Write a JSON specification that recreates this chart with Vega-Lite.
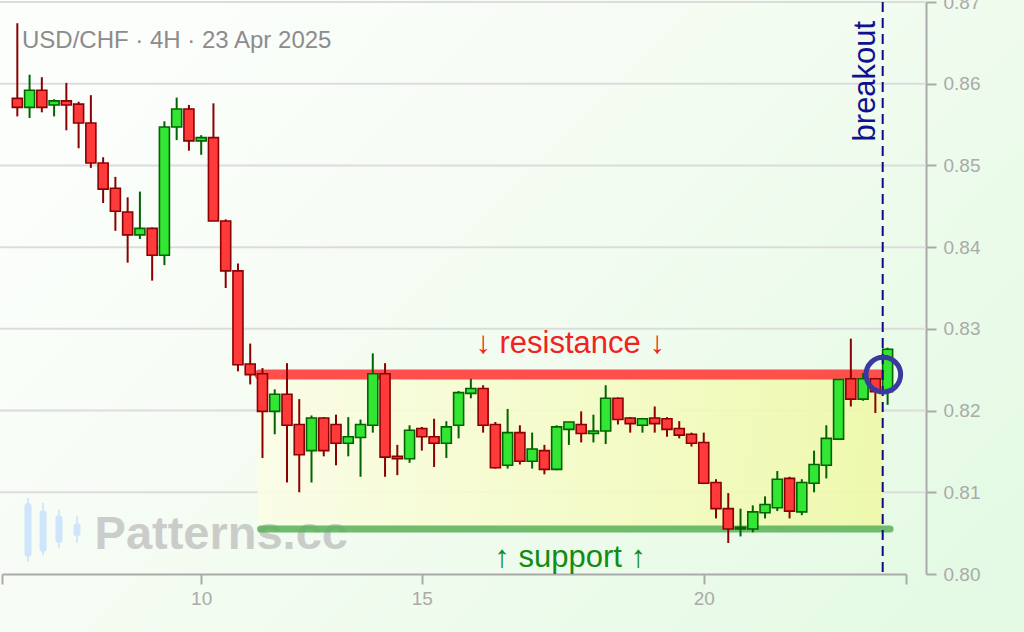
{
  "$schema": "https://vega.github.io/schema/vega-lite/v6.json",
  "width": 1024,
  "height": 632,
  "autosize": "none",
  "padding": 0,
  "background": "#f4fcf4",
  "config": {
    "view": {
      "stroke": null,
      "fill": {
        "gradient": "linear",
        "x1": 0, "y1": 0.2, "x2": 1, "y2": 0.8,
        "stops": [
          {"offset": 0, "color": "#fcfefc"},
          {"offset": 0.5, "color": "#f3fcf1"},
          {"offset": 1, "color": "#e4fae4"}
        ]
      }
    },
    "font": "Liberation Sans"
  },
  "datasets": {
    "candles": [
      {"i": 0, "open": 0.8582, "high": 0.8674, "low": 0.8560, "close": 0.8571},
      {"i": 1, "open": 0.8571, "high": 0.8611, "low": 0.8558, "close": 0.8592},
      {"i": 2, "open": 0.8592, "high": 0.8608, "low": 0.8565, "close": 0.8571},
      {"i": 3, "open": 0.8574, "high": 0.8581, "low": 0.8560, "close": 0.8579},
      {"i": 4, "open": 0.8579, "high": 0.8601, "low": 0.8543, "close": 0.8574},
      {"i": 5, "open": 0.8575, "high": 0.8578, "low": 0.8521, "close": 0.8552},
      {"i": 6, "open": 0.8552, "high": 0.8586, "low": 0.8497, "close": 0.8503},
      {"i": 7, "open": 0.8503, "high": 0.8510, "low": 0.8454, "close": 0.8471},
      {"i": 8, "open": 0.8472, "high": 0.8486, "low": 0.8420, "close": 0.8444},
      {"i": 9, "open": 0.8443, "high": 0.8461, "low": 0.8381, "close": 0.8415},
      {"i": 10, "open": 0.8415, "high": 0.8468, "low": 0.8410, "close": 0.8423},
      {"i": 11, "open": 0.8423, "high": 0.8424, "low": 0.8359, "close": 0.8390},
      {"i": 12, "open": 0.8390, "high": 0.8554, "low": 0.8378, "close": 0.8547},
      {"i": 13, "open": 0.8547, "high": 0.8583, "low": 0.8531, "close": 0.8569},
      {"i": 14, "open": 0.8569, "high": 0.8574, "low": 0.8518, "close": 0.8530},
      {"i": 15, "open": 0.8530, "high": 0.8537, "low": 0.8513, "close": 0.8534},
      {"i": 16, "open": 0.8534, "high": 0.8576, "low": 0.8432, "close": 0.8432},
      {"i": 17, "open": 0.8432, "high": 0.8434, "low": 0.8350, "close": 0.8371},
      {"i": 18, "open": 0.8371, "high": 0.8380, "low": 0.8248, "close": 0.8256},
      {"i": 19, "open": 0.8257, "high": 0.8282, "low": 0.8232, "close": 0.8244},
      {"i": 20, "open": 0.8245, "high": 0.8252, "low": 0.8142, "close": 0.8199},
      {"i": 21, "open": 0.8199, "high": 0.8226, "low": 0.8171, "close": 0.8220},
      {"i": 22, "open": 0.8220, "high": 0.8258, "low": 0.8112, "close": 0.8182},
      {"i": 23, "open": 0.8183, "high": 0.8214, "low": 0.8100, "close": 0.8146},
      {"i": 24, "open": 0.8151, "high": 0.8194, "low": 0.8112, "close": 0.8191},
      {"i": 25, "open": 0.8191, "high": 0.8192, "low": 0.8144, "close": 0.8151},
      {"i": 26, "open": 0.8183, "high": 0.8195, "low": 0.8133, "close": 0.8160},
      {"i": 27, "open": 0.8160, "high": 0.8192, "low": 0.8144, "close": 0.8168},
      {"i": 28, "open": 0.8167, "high": 0.8189, "low": 0.8119, "close": 0.8183},
      {"i": 29, "open": 0.8182, "high": 0.8270, "low": 0.8173, "close": 0.8245},
      {"i": 30, "open": 0.8245, "high": 0.8258, "low": 0.8119, "close": 0.8143},
      {"i": 31, "open": 0.8144, "high": 0.8158, "low": 0.8121, "close": 0.8141},
      {"i": 32, "open": 0.8141, "high": 0.8182, "low": 0.8136, "close": 0.8176},
      {"i": 33, "open": 0.8178, "high": 0.8180, "low": 0.8151, "close": 0.8168},
      {"i": 34, "open": 0.8168, "high": 0.8190, "low": 0.8131, "close": 0.8160},
      {"i": 35, "open": 0.8160, "high": 0.8187, "low": 0.8142, "close": 0.8180},
      {"i": 36, "open": 0.8182, "high": 0.8224, "low": 0.8166, "close": 0.8222},
      {"i": 37, "open": 0.8221, "high": 0.8239, "low": 0.8215, "close": 0.8227},
      {"i": 38, "open": 0.8227, "high": 0.8231, "low": 0.8173, "close": 0.8182},
      {"i": 39, "open": 0.8183, "high": 0.8186, "low": 0.8129, "close": 0.8130},
      {"i": 40, "open": 0.8133, "high": 0.8202, "low": 0.8129, "close": 0.8173},
      {"i": 41, "open": 0.8173, "high": 0.8182, "low": 0.8134, "close": 0.8138},
      {"i": 42, "open": 0.8138, "high": 0.8173, "low": 0.8129, "close": 0.8153},
      {"i": 43, "open": 0.8151, "high": 0.8158, "low": 0.8122, "close": 0.8128},
      {"i": 44, "open": 0.8128, "high": 0.8182, "low": 0.8127, "close": 0.8180},
      {"i": 45, "open": 0.8177, "high": 0.8186, "low": 0.8158, "close": 0.8186},
      {"i": 46, "open": 0.8183, "high": 0.8199, "low": 0.8161, "close": 0.8172},
      {"i": 47, "open": 0.8172, "high": 0.8195, "low": 0.8161, "close": 0.8175},
      {"i": 48, "open": 0.8175, "high": 0.8231, "low": 0.8159, "close": 0.8215},
      {"i": 49, "open": 0.8215, "high": 0.8216, "low": 0.8183, "close": 0.8189},
      {"i": 50, "open": 0.8191, "high": 0.8192, "low": 0.8173, "close": 0.8184},
      {"i": 51, "open": 0.8182, "high": 0.8191, "low": 0.8173, "close": 0.8190},
      {"i": 52, "open": 0.8191, "high": 0.8205, "low": 0.8173, "close": 0.8184},
      {"i": 53, "open": 0.8190, "high": 0.8192, "low": 0.8168, "close": 0.8177},
      {"i": 54, "open": 0.8178, "high": 0.8187, "low": 0.8166, "close": 0.8170},
      {"i": 55, "open": 0.8171, "high": 0.8173, "low": 0.8156, "close": 0.8160},
      {"i": 56, "open": 0.8161, "high": 0.8173, "low": 0.8110, "close": 0.8111},
      {"i": 57, "open": 0.8112, "high": 0.8116, "low": 0.8068, "close": 0.8080},
      {"i": 58, "open": 0.8080, "high": 0.8099, "low": 0.8038, "close": 0.8055},
      {"i": 59, "open": 0.8055, "high": 0.8080, "low": 0.8046, "close": 0.8057},
      {"i": 60, "open": 0.8055, "high": 0.8084, "low": 0.8051, "close": 0.8076},
      {"i": 61, "open": 0.8075, "high": 0.8095, "low": 0.8068, "close": 0.8085},
      {"i": 62, "open": 0.8081, "high": 0.8126, "low": 0.8077, "close": 0.8116},
      {"i": 63, "open": 0.8117, "high": 0.8119, "low": 0.8068, "close": 0.8077},
      {"i": 64, "open": 0.8076, "high": 0.8116, "low": 0.8072, "close": 0.8112},
      {"i": 65, "open": 0.8111, "high": 0.8151, "low": 0.8100, "close": 0.8134},
      {"i": 66, "open": 0.8133, "high": 0.8182, "low": 0.8117, "close": 0.8166},
      {"i": 67, "open": 0.8165, "high": 0.8238, "low": 0.8165, "close": 0.8238},
      {"i": 68, "open": 0.8239, "high": 0.8288, "low": 0.8205, "close": 0.8214},
      {"i": 69, "open": 0.8214, "high": 0.8246, "low": 0.8212, "close": 0.8239},
      {"i": 70, "open": 0.8239, "high": 0.8240, "low": 0.8197, "close": 0.8223},
      {"i": 71, "open": 0.8223, "high": 0.8277, "low": 0.8207, "close": 0.8275}
    ],
    "grid": [
      {"price": 0.81}, {"price": 0.82}, {"price": 0.83}, {"price": 0.84},
      {"price": 0.85}, {"price": 0.86}, {"price": 0.87}
    ],
    "icon": [
      {"k": 0.87, "top": 0.8087, "bottom": 0.8021, "hi": 0.8093, "lo": 0.8015},
      {"k": 2.1, "top": 0.8078, "bottom": 0.8027, "hi": 0.8087, "lo": 0.8023},
      {"k": 3.4, "top": 0.8072, "bottom": 0.8038, "hi": 0.8079, "lo": 0.8032},
      {"k": 4.87, "top": 0.8062, "bottom": 0.8046, "hi": 0.8071, "lo": 0.8038}
    ]
  },
  "encoding": {
    "x": {
      "type": "quantitative",
      "scale": {"domain": [-1.25, 72.5], "range": [2, 906], "nice": false, "zero": false, "padding": 0},
      "axis": {
        "orient": "bottom", "offset": -58, "title": null, "grid": false,
        "values": [-1.25, 15, 33, 56, 72.5],
        "labelExpr": "datum.value == 15 ? '10' : datum.value == 33 ? '15' : datum.value == 56 ? '20' : ''",
        "domainColor": "#aaaaaa", "domainWidth": 2,
        "tickColor": "#aaaaaa", "tickWidth": 2, "tickSize": 10,
        "labelColor": "#aaaaaa", "labelFontSize": 19, "labelPadding": 5,
        "labelFont": "Liberation Sans", "labelFlush": false, "labelOverlap": false
      }
    },
    "y": {
      "type": "quantitative",
      "scale": {"domain": [0.80, 0.87], "range": [574, 2], "nice": false, "zero": false, "padding": 0},
      "axis": {
        "orient": "right", "offset": -98, "title": null, "grid": false,
        "values": [0.80, 0.81, 0.82, 0.83, 0.84, 0.85, 0.86, 0.87],
        "format": ".2f",
        "domainColor": "#aaaaaa", "domainWidth": 2,
        "tickColor": "#aaaaaa", "tickWidth": 2, "tickSize": 10,
        "labelColor": "#aaaaaa", "labelFontSize": 19, "labelPadding": 7,
        "labelFont": "Liberation Sans", "labelFlush": false, "labelOverlap": false
      }
    }
  },
  "layer": [
    {
      "data": {"name": "grid"},
      "mark": {"type": "rule", "color": "#dcdcdc", "strokeWidth": 2},
      "encoding": {
        "x": {"datum": -1.45},
        "x2": {"datum": 74.13},
        "y": {"field": "price", "type": "quantitative"}
      }
    },
    {
      "data": {"values": [{}]},
      "mark": {
        "type": "rect",
        "fill": {
          "gradient": "linear",
          "x1": 0, "y1": 0, "x2": 1, "y2": 0,
          "stops": [
            {"offset": 0, "color": "#fbfde6"},
            {"offset": 1, "color": "#eff9a8"}
          ]
        },
        "opacity": 0.9
      },
      "encoding": {
        "x": {"datum": 19.6},
        "x2": {"datum": 70.6},
        "y": {"datum": 0.8244},
        "y2": {"datum": 0.8055}
      }
    },
    {
      "data": {"name": "icon"},
      "mark": {"type": "rule", "color": "#d3e8fb", "strokeWidth": 2},
      "encoding": {
        "x": {"field": "k", "type": "quantitative"},
        "y": {"field": "lo", "type": "quantitative"},
        "y2": {"field": "hi"}
      }
    },
    {
      "data": {"name": "icon"},
      "mark": {"type": "bar", "color": "#cfe5fb", "width": 7, "cornerRadius": 3},
      "encoding": {
        "x": {"field": "k", "type": "quantitative"},
        "y": {"field": "bottom", "type": "quantitative"},
        "y2": {"field": "top"}
      }
    },
    {
      "data": {"values": [{"label": "Patterns.cc"}]},
      "mark": {
        "type": "text", "align": "left", "baseline": "alphabetic",
        "fontSize": 47, "fontWeight": "bold", "color": "#c4c4c4", "opacity": 0.85
      },
      "encoding": {
        "x": {"datum": 6.3},
        "y": {"datum": 0.8030},
        "text": {"field": "label"}
      }
    },
    {
      "data": {"values": [{}]},
      "mark": {"type": "rule", "color": "#ff3c3c", "strokeWidth": 10, "strokeCap": "round", "opacity": 0.9},
      "encoding": {
        "x": {"datum": 19.75},
        "x2": {"datum": 70.55},
        "y": {"datum": 0.8244}
      }
    },
    {
      "data": {"values": [{}]},
      "mark": {"type": "rule", "color": "#58b058", "strokeWidth": 7, "strokeCap": "round", "opacity": 0.85},
      "encoding": {
        "x": {"datum": 19.85},
        "x2": {"datum": 71.2},
        "y": {"datum": 0.8055}
      }
    },
    {
      "data": {"name": "candles"},
      "mark": {"type": "rule", "strokeWidth": 2},
      "encoding": {
        "x": {"field": "i", "type": "quantitative"},
        "y": {"field": "low", "type": "quantitative"},
        "y2": {"field": "high"},
        "color": {
          "condition": {"test": "datum.close >= datum.open", "value": "#006400"},
          "value": "#8b0000"
        }
      }
    },
    {
      "data": {"name": "candles"},
      "mark": {"type": "bar", "width": 10, "strokeWidth": 1.6},
      "encoding": {
        "x": {"field": "i", "type": "quantitative"},
        "y": {"field": "open", "type": "quantitative"},
        "y2": {"field": "close"},
        "fill": {
          "condition": {"test": "datum.close >= datum.open", "value": "#33e633"},
          "value": "#ff3a3a"
        },
        "stroke": {
          "condition": {"test": "datum.close >= datum.open", "value": "#006400"},
          "value": "#8b0000"
        }
      }
    },
    {
      "data": {"values": [{}]},
      "mark": {"type": "rule", "color": "#0c0c80", "strokeWidth": 2, "strokeDash": [10, 6]},
      "encoding": {
        "x": {"datum": 70.6},
        "y": {"datum": 0.87},
        "y2": {"datum": 0.80}
      }
    },
    {
      "data": {"values": [{}]},
      "mark": {"type": "point", "shape": "circle", "size": 1200, "filled": false, "stroke": "#3a3a9e", "strokeWidth": 5, "opacity": 1},
      "encoding": {
        "x": {"datum": 70.65},
        "y": {"datum": 0.8244}
      }
    },
    {
      "data": {"values": [{"label": "USD/CHF · 4H · 23 Apr 2025"}]},
      "mark": {"type": "text", "align": "left", "baseline": "middle", "fontSize": 24, "color": "#8c8c8c"},
      "encoding": {
        "x": {"datum": 0.38},
        "y": {"datum": 0.8652},
        "text": {"field": "label"}
      }
    },
    {
      "data": {"values": [{"label": "↓ resistance ↓"}]},
      "mark": {"type": "text", "align": "center", "baseline": "middle", "fontSize": 31, "color": "#f02222"},
      "encoding": {
        "x": {"datum": 45.1},
        "y": {"datum": 0.8282},
        "text": {"field": "label"}
      }
    },
    {
      "data": {"values": [{"label": "↑ support ↑"}]},
      "mark": {"type": "text", "align": "center", "baseline": "middle", "fontSize": 31, "color": "#128c12"},
      "encoding": {
        "x": {"datum": 45.1},
        "y": {"datum": 0.8020},
        "text": {"field": "label"}
      }
    },
    {
      "data": {"values": [{"label": "breakout"}]},
      "mark": {"type": "text", "align": "right", "baseline": "middle", "angle": 270, "fontSize": 31, "color": "#101090"},
      "encoding": {
        "x": {"datum": 69.2},
        "y": {"datum": 0.8677},
        "text": {"field": "label"}
      }
    }
  ]
}
